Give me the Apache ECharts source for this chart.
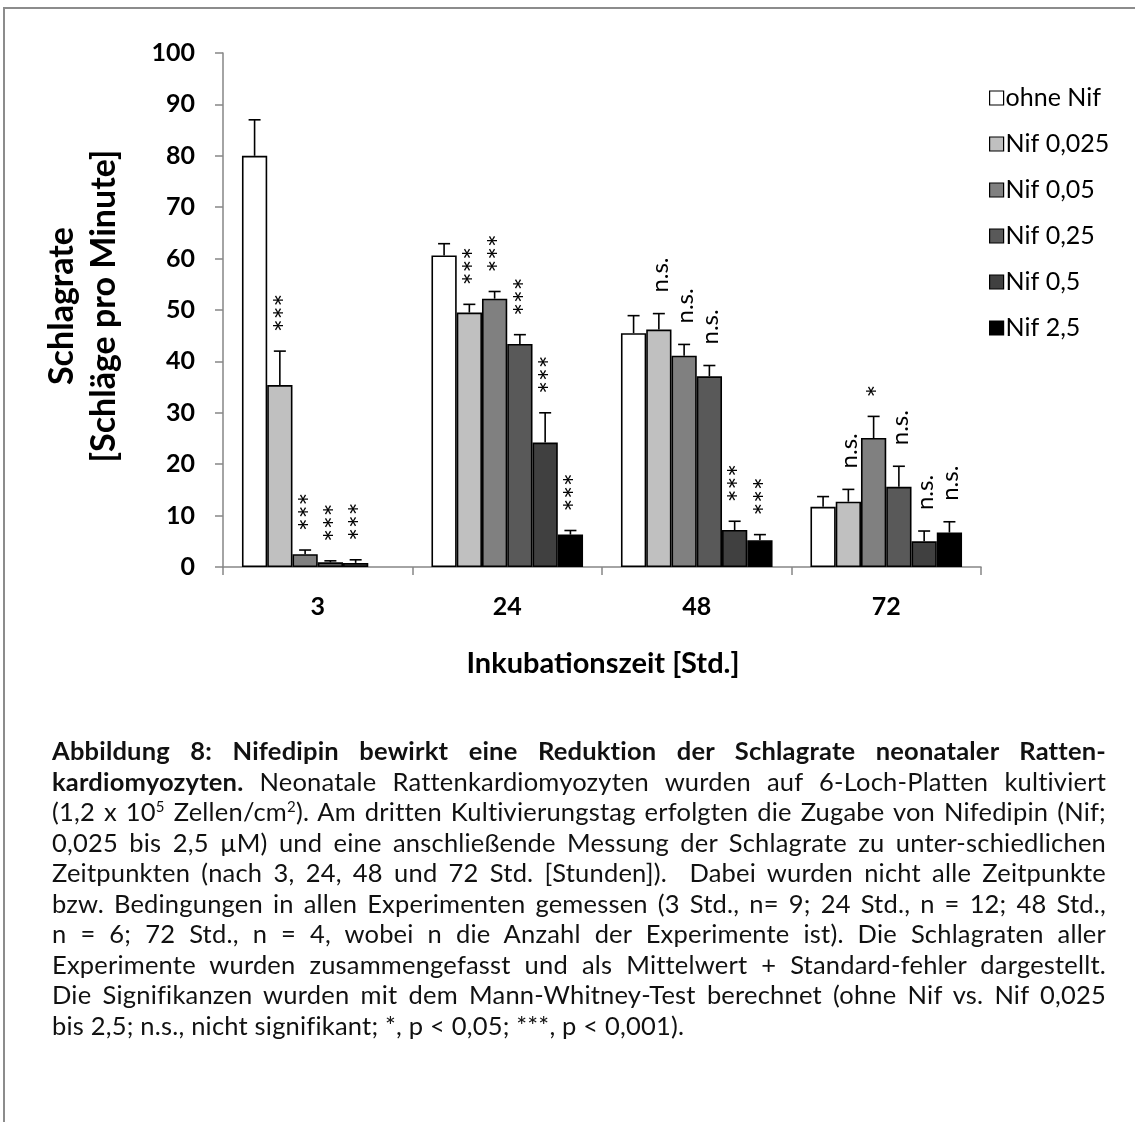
<!DOCTYPE html>
<html>
<head>
<meta charset="utf-8">
<title>Schlagrate neonataler Rattenkardiomyozyten unter Nifedipin</title>
<script src="https://cdn.jsdelivr.net/npm/echarts@6/dist/echarts.min.js"></script>
<style>
  html, body { margin: 0; padding: 0; background: #fff; }
  #wrap { position: relative; width: 1135px; height: 1122px; overflow: hidden; }
  #chart { position: absolute; left: 0; top: 0; width: 1135px; height: 1122px; }
  #frame { position: absolute; left: 3px; top: 7px; width: 1300px; height: 1300px;
           border-top: 2px solid #8c8c8c; border-left: 2px solid #8c8c8c; pointer-events: none; }
  #caption { position: absolute; left: 52px; top: 735px; width: 1054px;
             font-family: Lato, "Open Sans", sans-serif; font-size: 25.5px; letter-spacing: 0.2px;
             line-height: 30.5px; color: #111; }
  #caption div { text-align: justify; text-align-last: justify; white-space: nowrap; }
  #caption div.last { text-align-last: left; }
  #caption sup { font-size: 15px; line-height: 0; vertical-align: 9px; }
</style>
</head>
<body>
<div id="wrap">
  <div id="chart"></div>
  <div id="frame"></div>
  <div id="caption">
    <div><b>Abbildung 8: Nifedipin bewirkt eine Reduktion der Schlagrate neonataler Ratten-</b></div>
    <div><b>kardiomyozyten.</b> Neonatale Rattenkardiomyozyten wurden auf 6-Loch-Platten kultiviert</div>
    <div>(1,2 x 10<sup>5</sup> Zellen/cm<sup>2</sup>). Am dritten Kultivierungstag erfolgten die Zugabe von Nifedipin (Nif;</div>
    <div>0,025 bis 2,5 µM) und eine anschließende Messung der Schlagrate zu unter-schiedlichen</div>
    <div>Zeitpunkten (nach 3, 24, 48 und 72 Std. [Stunden]).&nbsp; Dabei wurden nicht alle Zeitpunkte</div>
    <div>bzw. Bedingungen in allen Experimenten gemessen (3 Std., n= 9; 24 Std., n = 12; 48 Std.,</div>
    <div>n = 6; 72 Std., n = 4, wobei n die Anzahl der Experimente ist). Die Schlagraten aller</div>
    <div>Experimente wurden zusammengefasst und als Mittelwert + Standard-fehler dargestellt.</div>
    <div>Die Signifikanzen wurden mit dem Mann-Whitney-Test berechnet (ohne Nif vs. Nif 0,025</div>
    <div class="last">bis 2,5; n.s., nicht signifikant; *, p &lt; 0,05; ***, p &lt; 0,001).</div>
  </div>
</div>
<script>
// Incubation times (hours)
const categories = ['3', '24', '48', '72'];
const seriesNames = ['ohne Nif', 'Nif 0,025', 'Nif 0,05', 'Nif 0,25', 'Nif 0,5', 'Nif 2,5'];

// Mean beating rate (beats per minute); null = not measured
const ohneNif  = [80.0, 60.6, 45.5, 11.7];
const nif0025  = [35.4, 49.5, 46.2, 12.7];
const nif005   = [2.5, 52.2, 41.1, 25.1];
const nif025   = [0.9, 43.4, 37.1, 15.6];
const nif05    = [0.8, 24.2, 7.2, 5.0];
const nif25    = [null, 6.3, 5.2, 6.7];

// Standard error of the mean
const errOhneNif = [7.0, 2.3, 3.4, 2.0];
const errNif0025 = [6.6, 1.6, 3.1, 2.4];
const errNif005  = [0.8, 1.4, 2.2, 4.2];
const errNif025  = [0.3, 1.8, 2.1, 4.0];
const errNif05   = [0.6, 5.8, 1.7, 2.0];
const errNif25   = [0, 0.8, 1.1, 2.1];

// Mann-Whitney significance vs. "ohne Nif"
const sigOhneNif = ['', '', '', ''];
const sigNif0025 = ['***', '***', 'n.s.', 'n.s.'];
const sigNif005  = ['***', '***', 'n.s.', '*'];
const sigNif025  = ['***', '***', 'n.s.', 'n.s.'];
const sigNif05   = ['***', '***', '***', 'n.s.'];
const sigNif25   = ['', '***', '***', 'n.s.'];

const yMin = 0, yMax = 100, yStep = 10;

const meanValues = [ohneNif, nif0025, nif005, nif025, nif05, nif25];
const errValues = [errOhneNif, errNif0025, errNif005, errNif025, errNif05, errNif25];
const sigValues = [sigOhneNif, sigNif0025, sigNif005, sigNif025, sigNif05, sigNif25];
const barColors = ['#ffffff', '#c0c0c0', '#808080', '#595959', '#404040', '#000000'];

const FONT = 'Lato, "Open Sans", sans-serif';
const CAT_GAP = 0.2; // barCategoryGap as fraction

// One entry per bar for the error bars and significance marks
const errorItems = [];
meanValues.forEach((vals, s) => {
  vals.forEach((v, c) => {
    if (v == null) return;
    errorItems.push({ c, s, mean: v, err: errValues[s][c], sig: sigValues[s][c] });
  });
});

const chart = echarts.init(document.getElementById('chart'), null, { renderer: 'canvas' });

const barSeries = seriesNames.map((name, i) => ({
  type: 'bar',
  name,
  data: meanValues[i],
  barGap: '0%',
  barCategoryGap: (CAT_GAP * 100) + '%',
  itemStyle: { color: barColors[i], borderColor: '#000', borderWidth: 1.6 },
  emphasis: { disabled: true },
  silent: true,
  animation: false
}));

const errorSeries = {
  type: 'custom',
  name: 'SEM',
  silent: true,
  animation: false,
  clip: false,
  z: 5,
  data: errorItems.map(d => [d.c, d.mean + d.err]),
  encode: { x: 0, y: 1 },
  renderItem(params, api) {
    const d = errorItems[params.dataIndex];
    const band = api.size([1, 0])[0];
    const bw = band * (1 - CAT_GAP) / seriesNames.length;
    const cx = api.coord([d.c, 0])[0] - band * (1 - CAT_GAP) / 2 + bw * (d.s + 0.5);
    const yBase = api.coord([d.c, d.mean])[1];
    const yTop = api.coord([d.c, d.mean + d.err])[1];
    const children = [];
    const lineStyle = { stroke: '#000', lineWidth: 1.6 };
    if (d.err > 0) {
      children.push({ type: 'line', shape: { x1: cx, y1: yBase, x2: cx, y2: yTop }, style: lineStyle });
      children.push({ type: 'line', shape: { x1: cx - 6, y1: yTop, x2: cx + 6, y2: yTop }, style: lineStyle });
    }
    if (d.sig) {
      const stars = d.sig.charAt(0) === '*';
      children.push({
        type: 'text',
        x: cx + (stars ? 6 : 1),
        y: yTop - (stars ? 19 : 21),
        rotation: Math.PI / 2,
        style: {
          text: d.sig,
          fontFamily: FONT,
          fontSize: stars ? 30 : 24,
          fill: '#000',
          align: 'left',
          verticalAlign: 'middle'
        }
      });
    }
    return { type: 'group', children };
  }
};

const axisGray = '#868686';

chart.setOption({
  animation: false,
  backgroundColor: 'transparent',
  grid: { left: 223, right: 154, top: 53, bottom: 555, containLabel: false },
  legend: {
    data: seriesNames,
    orient: 'vertical',
    left: 984,
    top: 79,
    itemWidth: 14,
    itemHeight: 14,
    itemGap: 18,
    icon: 'rect',
    selectedMode: false,
    itemStyle: { borderColor: '#000', borderWidth: 1.2 },
    textStyle: { fontFamily: FONT, fontSize: 25, color: '#000', lineHeight: 28, padding: [0, 0, 0, -3] }
  },
  xAxis: {
    type: 'category',
    data: categories,
    axisLine: { lineStyle: { color: axisGray, width: 1.5 } },
    axisTick: { show: true, interval: 0, alignWithLabel: false, length: 8, lineStyle: { color: axisGray, width: 1.5 } },
    axisLabel: { fontFamily: FONT, fontWeight: 'bold', fontSize: 25, color: '#000', margin: 27 },
    splitLine: { show: false }
  },
  yAxis: {
    type: 'value',
    min: yMin,
    max: yMax,
    interval: yStep,
    axisLine: { show: true, lineStyle: { color: axisGray, width: 1.5 } },
    axisTick: { show: true, length: 8, lineStyle: { color: axisGray, width: 1.5 } },
    axisLabel: { fontFamily: FONT, fontWeight: 'bold', fontSize: 25, color: '#000', margin: 28 },
    splitLine: { show: false }
  },
  graphic: [
    {
      type: 'text', x: 603, y: 664,
      style: { text: 'Inkubationszeit [Std.]', fontFamily: FONT, fontWeight: 'bold', fontSize: 29,
               fill: '#000', align: 'center', verticalAlign: 'middle' }
    },
    {
      type: 'text', x: 62, y: 306, rotation: Math.PI / 2,
      style: { text: 'Schlagrate', fontFamily: FONT, fontWeight: 'bold', fontSize: 34,
               fill: '#000', align: 'center', verticalAlign: 'middle' }
    },
    {
      type: 'text', x: 104, y: 306, rotation: Math.PI / 2,
      style: { text: '[Schläge pro Minute]', fontFamily: FONT, fontWeight: 'bold', fontSize: 34,
               fill: '#000', align: 'center', verticalAlign: 'middle' }
    }
  ],
  series: [...barSeries, errorSeries]
});
</script>
</body>
</html>
